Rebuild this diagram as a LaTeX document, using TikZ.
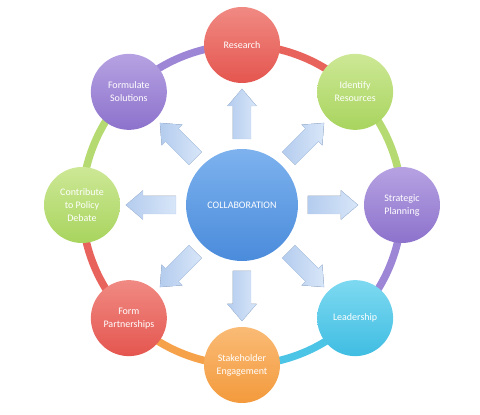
\documentclass[tikz,border=0pt]{standalone}
\usepackage{fontspec}
\setmainfont{Carlito}
\usepackage{tikz}
\usetikzlibrary{backgrounds}
\usetikzlibrary{calc}

\definecolor{redtop}{HTML}{F08A83}
\definecolor{redbot}{HTML}{E4564F}
\definecolor{greentop}{HTML}{CDE896}
\definecolor{greenbot}{HTML}{A8D45E}
\definecolor{purpletop}{HTML}{B6A2E2}
\definecolor{purplebot}{HTML}{8D72CC}
\definecolor{cyantop}{HTML}{7ED9F1}
\definecolor{cyanbot}{HTML}{3FBDE2}
\definecolor{orangetop}{HTML}{FABB76}
\definecolor{orangebot}{HTML}{F39A3C}
\definecolor{bluetop}{HTML}{7DB2EE}
\definecolor{bluebot}{HTML}{4A8BDB}
\definecolor{ringred}{HTML}{E8635C}
\definecolor{ringgreen}{HTML}{B5DA72}
\definecolor{ringpurple}{HTML}{9D86D6}
\definecolor{ringcyan}{HTML}{4CC4E6}
\definecolor{ringorange}{HTML}{F5A24A}
\definecolor{arrowtop}{HTML}{D8E6F8}
\definecolor{arrowbot}{HTML}{B4CCEE}

\tikzset{
	topic/.style={circle,minimum size=76pt,inner sep=1pt,align=center,text=white,font=\fontsize{10}{13}\selectfont},
	ring/.style={line width=7.5pt,bend left=22.5,looseness=0.885},
	blockarrow/.style={left color=arrowbot,right color=arrowtop,draw=arrowbot,line width=0.4pt}
}

\begin{document}
\begin{tikzpicture}[x=1pt,y=1pt]
			\useasboundingbox (-242,-210) rectangle (238,205);
			\node [topic,minimum size=112pt,top color=bluetop,bottom color=bluebot] (collab) at (0,0) {COLLABORATION};
			\node [topic,top color=redtop,bottom color=redbot] (research) at (90:160) {Research};
			\node [topic,top color=greentop,bottom color=greenbot] (identify) at (45:160) {Identify\\Resources};
			\node [topic,top color=purpletop,bottom color=purplebot] (strategic) at (0:160) {Strategic\\Planning};
			\node [topic,top color=cyantop,bottom color=cyanbot] (leadership) at (-45:160) {Leadership};
			\node [topic,top color=orangetop,bottom color=orangebot] (stakeholder) at (-90:160) {Stakeholder\\Engagement};
			\node [topic,top color=redtop,bottom color=redbot] (partner) at (-135:160) {Form\\Partnerships};
			\node [topic,top color=greentop,bottom color=greenbot] (policy) at (180:160) {Contribute\\to Policy\\Debate};
			\node [topic,top color=purpletop,bottom color=purplebot] (formulate) at (135:160) {Formulate\\Solutions};
			% outer ring, one colour per segment
			\begin{scope}[on background layer]
			\draw [ring,ringred] (research.center) to (identify.center);
			\draw [ring,ringgreen] (identify.center) to (strategic.center);
			\draw [ring,ringpurple] (strategic.center) to (leadership.center);
			\draw [ring,ringcyan] (leadership.center) to (stakeholder.center);
			\draw [ring,ringorange] (stakeholder.center) to (partner.center);
			\draw [ring,ringred] (partner.center) to (policy.center);
			\draw [ring,ringgreen] (policy.center) to (formulate.center);
			\draw [ring,ringpurple] (formulate.center) to (research.center);
			\end{scope}
			% block arrows
			\foreach \a in {0,45,...,315}
				\filldraw [blockarrow,shift={(collab.center)},rotate=\a] (66,-9) -- (99,-9) -- (99,-14.5) -- (116,0) -- (99,14.5) -- (99,9) -- (66,9) -- cycle;
			\end{tikzpicture}
\end{document}
